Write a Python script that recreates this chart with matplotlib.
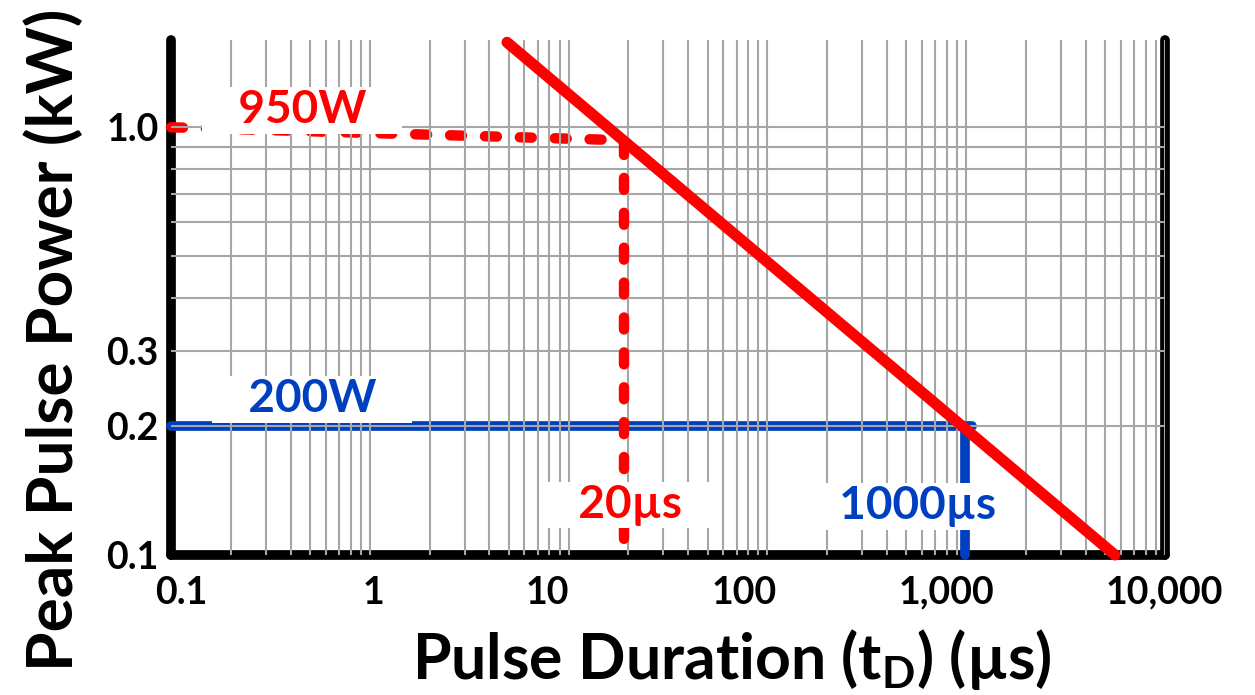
import matplotlib
matplotlib.use("Agg")
import matplotlib.pyplot as plt
from matplotlib.ticker import LogLocator, NullFormatter
from matplotlib.transforms import ScaledTranslation

# tick positions and labels
x_ticks = [0.1, 1, 10, 100, 1000, 10000]
x_tick_labels = ["0.1", "1", "10", "100", "1,000", "10,000"]
y_ticks = [0.1, 0.2, 0.3, 1.0]
y_tick_labels = ["0.1", "0.2", "0.3", "1.0"]

# derating curve (peak pulse power vs pulse duration)
curve_x = [4.9, 5600]
curve_y = [1.58, 0.1]

# 950 W / 20 us marker (red dashed)
red_h_x = [0.1, 18.5]
red_h_y = [1.0, 0.933]
red_v_x = [19, 19]
red_v_y = [0.92, 0.1]

# 200 W / 1000 us marker (blue)
blue_h_x = [0.1, 1070]
blue_h_y = [0.2, 0.2]
blue_v_x = [990, 990]
blue_v_y = [0.2, 0.1]

RED = "#ff0000"
BLUE = "#0040c0"
GRID = "#a6a6a6"

plt.rcParams["font.family"] = ["Lato", "DejaVu Sans"]
plt.rcParams["font.weight"] = "bold"
plt.rcParams["mathtext.fontset"] = "custom"
plt.rcParams["mathtext.rm"] = "Lato:bold"
plt.rcParams["mathtext.bf"] = "Lato:bold"
plt.rcParams["mathtext.it"] = "Lato:bold"

fig = plt.figure(figsize=(12.55, 6.95), dpi=100)
ax = fig.add_axes([171 / 1255, 140 / 695, 994 / 1255, 515 / 695])
ax.set_xscale("log")
ax.set_yscale("log")
ax.set_xlim(0.1, 10000)
ax.set_ylim(0.1, 1.6)

ax.set_xticks(x_ticks, x_tick_labels)
ax.set_yticks(y_ticks, y_tick_labels)
for axis in (ax.xaxis, ax.yaxis):
    axis.set_minor_locator(LogLocator(base=10, subs=range(2, 10)))
    axis.set_minor_formatter(NullFormatter())
ax.tick_params(which="both", length=0)
ax.tick_params(axis="x", labelsize=27, pad=15)
ax.tick_params(axis="y", labelsize=27, pad=9)

ax.set_axisbelow(False)
ax.grid(True, which="both", color=GRID, lw=1.5)
# no grid line drawn over the left / bottom frame
ax.xaxis.get_major_ticks()[0].gridline.set_visible(False)
ax.yaxis.get_major_ticks()[0].gridline.set_visible(False)

# x labels in the original sit a little off their ticks
for lab, dx in zip(ax.get_xticklabels(), [10, 4, -21, -23, -20, -1]):
    lab.set_transform(lab.get_transform() + ScaledTranslation(dx / 100, 0, fig.dpi_scale_trans))

ax.spines["top"].set_visible(False)
for side in ("left", "bottom", "right"):
    sp = ax.spines[side]
    sp.set_linewidth(7)
    sp.set_color("black")
    sp.set_zorder(1)
    sp.set_capstyle("round")

# horizontal markers sit under the grid, vertical ones and the curve above it
dash = (1.15, 2.2)
ax.plot(blue_h_x, blue_h_y, color=BLUE, lw=7, solid_capstyle="round", zorder=1.5, clip_on=False)
ax.plot(blue_v_x, blue_v_y, color=BLUE, lw=7, solid_capstyle="round", zorder=2.7, clip_on=False)
ax.plot(red_h_x, red_h_y, color=RED, lw=7.5, dashes=dash, dash_capstyle="round",
        zorder=1.6, clip_on=False)
ax.plot(red_v_x, red_v_y, color=RED, lw=7.5, dashes=dash, dash_capstyle="round",
        zorder=2.7, clip_on=False)
ax.plot(curve_x, curve_y, color=RED, lw=8, solid_capstyle="round", zorder=3, clip_on=False)

box = dict(boxstyle="square,pad=0.05", fc="white", ec="none")
ax.text(0.456, 1.096, "   950W   ", color=RED, fontsize=33, ha="center", va="center",
        bbox=box, zorder=4)
ax.text(0.512, 0.231, "   200W   ", color=BLUE, fontsize=33, ha="center", va="center",
        bbox=box, zorder=4)
ax.text(20.4, 0.131, "   20µs   ", color=RED, fontsize=33, ha="center", va="center",
        bbox=box, zorder=4)
ax.text(573, 0.130, "  1000µs  ", color=BLUE, fontsize=33, ha="center", va="center",
        bbox=box, zorder=4)

fig.text(732 / 1255, 1 - 660 / 695, r"Pulse Duration (t$_\mathregular{D}$) (µs)",
         fontsize=45, ha="center", va="center")
fig.text(53 / 1255, 1 - 340 / 695, "Peak Pulse Power (kW)", fontsize=46,
         rotation=90, ha="center", va="center")

fig.savefig("out.png", dpi=100)
